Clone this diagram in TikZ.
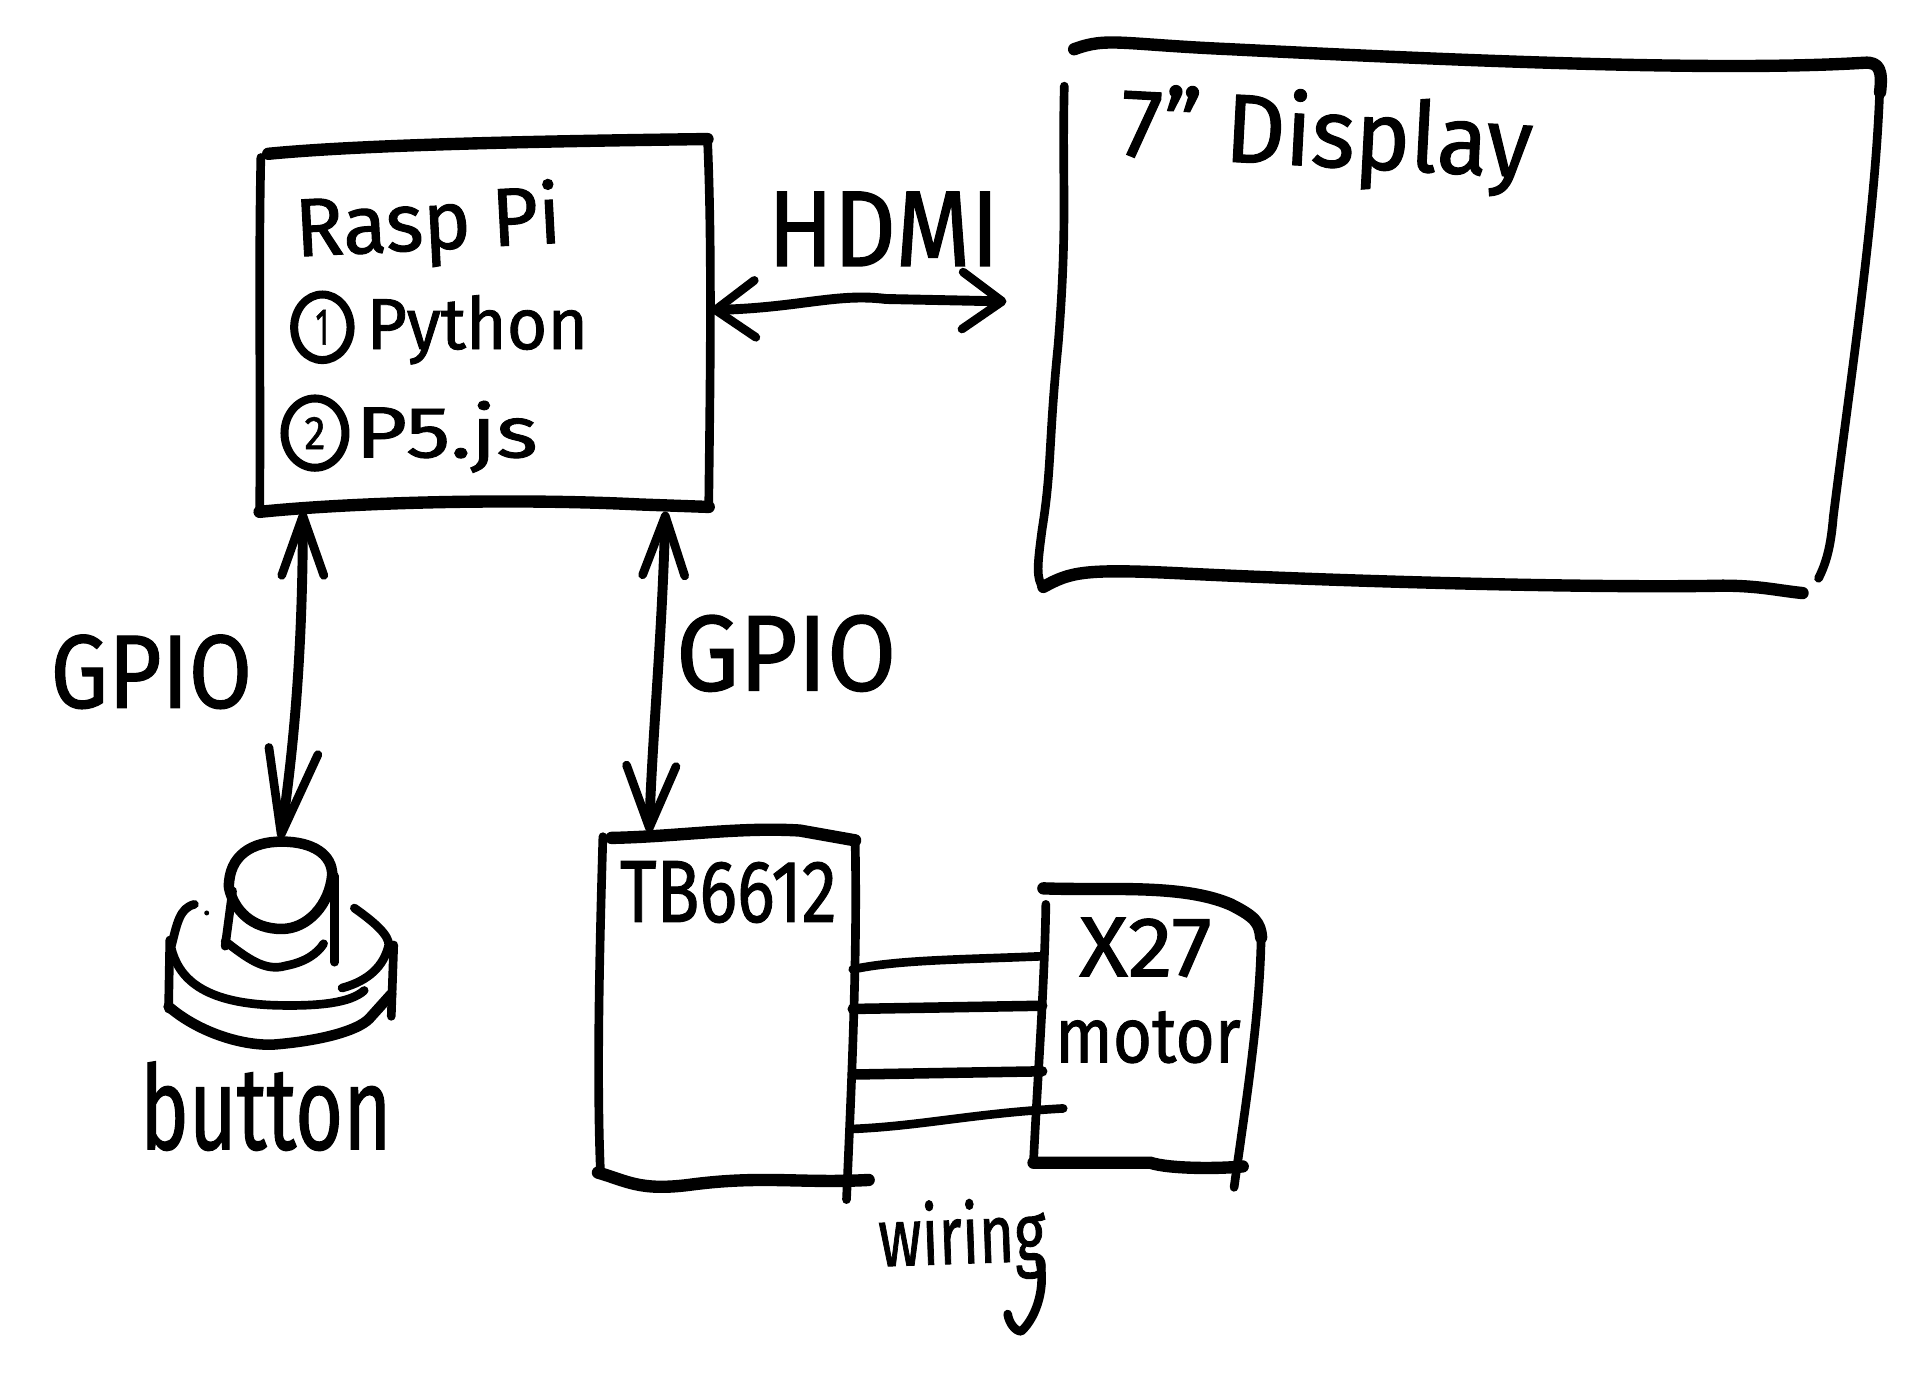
\documentclass[tikz,border=0pt]{standalone}
\usepackage{fontspec}
\usepackage{graphicx}
\setmainfont[FakeBold=1.2]{Fira Sans}
\usetikzlibrary{arrows.meta,calc}
\newcommand{\handtext}[3]{\resizebox*{#1pt}{#2pt}{#3}}
\tikzset{
  thinink/.style={draw=black,line width=7pt,line cap=round,line join=round},
  thickink/.style={draw=black,line width=10pt,line cap=round,line join=round},
  midink/.style={draw=black,line width=8.5pt,line cap=round,line join=round},
  hit/.style={inner sep=0pt,outer sep=0pt,draw=none,fill=none},
  label/.style={inner sep=0pt,outer sep=0pt,text=black},
  bibig/.tip={Straight Barb[length=48pt,width=34pt,line width=7pt,round]},
  bismall/.tip={Straight Barb[length=32pt,width=46pt,line width=7pt,round]},
  link/.style={draw=black,line width=8pt,line cap=round,line join=round},
}
\begin{document}
\begin{tikzpicture}[x=0.9945pt,y=-0.9945pt]
\useasboundingbox (0,0) rectangle (1568.6,1136.3);
\fill[white] (0,0) rectangle (1568.6,1136.3);

% invisible anchors for the hand-drawn boxes
\node[hit,minimum width=366pt,minimum height=300pt] (rasp) at (394,265) {};
\node[hit,minimum width=670pt,minimum height=430pt] (disp) at (1185,265) {};
\node[hit,minimum width=205pt,minimum height=280pt] (tb) at (590,817) {};
\node[hit,minimum width=175pt,minimum height=225pt] (motor) at (935,835) {};
\node[hit,minimum width=180pt,minimum height=170pt] (btn) at (228,767) {};

% Rasp Pi box
\draw[thinink] (212,128) .. controls (210,220) and (212,320) .. (211,417);
\draw[thickink] (218,125) .. controls (290,118) and (420,115) .. (575,113);
\draw[thinink] (575,113) .. controls (579,200) and (577,320) .. (576,412);
\draw[thickink] (211,416) .. controls (290,408) and (420,405) .. (520,410) -- (576,412);

% Display box
\draw[thickink] (873,40) .. controls (900,30) and (910,36) .. (1000,40) .. controls (1200,50) and (1400,58) .. (1515,51) .. controls (1528,50) and (1530,58) .. (1528,75);
\draw[thinink] (1528,65) .. controls (1525,170) and (1505,300) .. (1490,420) .. controls (1488,445) and (1484,458) .. (1478,470);
\draw[thickink] (848,477) .. controls (870,465) and (880,462) .. (960,466) .. controls (1100,473) and (1300,478) .. (1400,476) .. controls (1430,476) and (1445,480) .. (1465,482);
\draw[thinink] (865,70) .. controls (863,150) and (868,180) .. (860,280) .. controls (852,360) and (855,380) .. (847,430) .. controls (843,460) and (842,470) .. (848,478);

% TB6612 box
\draw[thinink] (490,680) .. controls (487,780) and (485,880) .. (488,952);
\draw[thickink] (497,681) .. controls (550,680) and (600,672) .. (650,675) -- (695,683);
\draw[thinink] (695,683) .. controls (697,780) and (692,880) .. (688,975);
\draw[thickink] (486,953) .. controls (510,960) and (520,968) .. (560,963) .. controls (620,955) and (650,962) .. (706,959);

% X27 box
\draw[thickink] (848,722) .. controls (900,724) and (960,718) .. (1000,735) .. controls (1020,745) and (1024,750) .. (1025,762);
\draw[thinink] (1025,755) .. controls (1025,820) and (1012,900) .. (1003,965);
\draw[thinink] (850,735) .. controls (849,800) and (843,880) .. (840,944);
\draw[thickink] (840,945) -- (935,945) .. controls (950,950) and (990,950) .. (1010,948);

% wires
\draw[thinink] ([yshift=-111pt]tb.north east) .. controls (730,780) and (780,780) .. ([yshift=-55pt]motor.north west);
\draw[midink] ([yshift=-143pt]tb.north east) -- ([yshift=-95pt]motor.north west);
\draw[midink] ([yshift=-196pt]tb.north east) -- ([yshift=-148pt]motor.north west);
\draw[thinink] ([yshift=-240pt]tb.north east) .. controls (750,915) and (790,905) .. ([xshift=17pt,yshift=-178pt]motor.north west);

% arrows
\draw[link,{bismall}-{bismall}] (rasp.east |- 0,252) .. controls (650,250) and (680,238) .. (720,243) -- (818,245);
\draw[link,{bibig}-{Straight Barb[length=68pt,width=40pt,line width=7pt,round]}] ([xshift=-147pt]rasp.south) .. controls (246,520) and (240,600) .. (btn.north);
\draw[link,{bibig}-{Straight Barb[length=50pt,width=40pt,line width=7pt,round]}] ([xshift=146pt]rasp.south) .. controls (538,520) and (530,600) .. ([xshift=-62pt]tb.north);

% button
\draw[midink] (186,721) .. controls (186,695) and (205,684) .. (229,684) .. controls (255,684) and (270,695) .. (270,711) .. controls (268,735) and (250,755) .. (229,755) .. controls (205,755) and (190,740) .. (186,721);
\draw[thinink] (189,724) -- (183,769);
\draw[thinink] (272,712) -- (272,782);
\draw[thinink] (183,765) .. controls (200,778) and (215,790) .. (232,785) .. controls (248,782) and (258,775) .. (263,767);
\draw[thinink] (158,735) .. controls (146,738) and (144,750) .. (139,770) .. controls (145,795) and (165,815) .. (223,817) .. controls (260,818) and (285,815) .. (296,805);
\draw[thinink] (288,738) .. controls (305,750) and (316,760) .. (316,768) .. controls (312,785) and (300,797) .. (278,803);
\draw[thinink] (138,764) -- (137,820);
\draw[thinink] (320,768) -- (318,826);
\draw[midink] (137,818) .. controls (160,838) and (195,850) .. (222,849) .. controls (260,846) and (290,838) .. (300,828) -- (318,808);
\fill (168,742) circle (2pt);

% labels
\node[label,rotate=3] (lrasp) at (348,184) {\handtext{215}{66}{Rasp Pi}};
\node[hit,draw=black,circle,line width=6.5pt,xscale=.86,minimum size=53pt] (c1) at (262,266) {};
\node[label] (n1) at (262,266) {\handtext{11}{28}{1}};
\node[label] (lpy) at (388,268) {\handtext{179}{56}{Python}};
\node[hit,draw=black,circle,line width=6.5pt,xscale=.88,minimum size=56pt] (c2) at (256,352) {};
\node[label] (n2) at (256,352) {\handtext{17}{26}{2}};
\node[label] (lp5) at (363,355) {\handtext{147}{58}{P5.js}};
\node[label] (lhdmi) at (718,186) {\handtext{187}{60}{HDMI}};
\node[label,rotate=-3] (ldisp) at (1078,113) {\handtext{333}{78}{7" Display}};
\node[label] (lg1) at (123,546) {\handtext{163}{60}{GPIO}};
\node[label] (lg2) at (639,531) {\handtext{178}{62}{GPIO}};
\node[label] (ltb) at (592,725) {\handtext{175}{50}{TB6612}};
\node[label] (lx) at (931,770) {\handtext{107}{48}{X27}};
\node[label] (lmo) at (933,843) {\handtext{150}{42}{motor}};
\node[label] (lbu) at (216,899) {\handtext{203}{72}{button}};
\node[label,rotate=2] (lwi) at (782,1008) {\handtext{135}{66}{wiring}};
\draw[thinink] (845,1025) .. controls (850,1045) and (843,1070) .. (830,1082) .. controls (825,1082) and (820,1075) .. (819,1068);
\end{tikzpicture}
\end{document}
